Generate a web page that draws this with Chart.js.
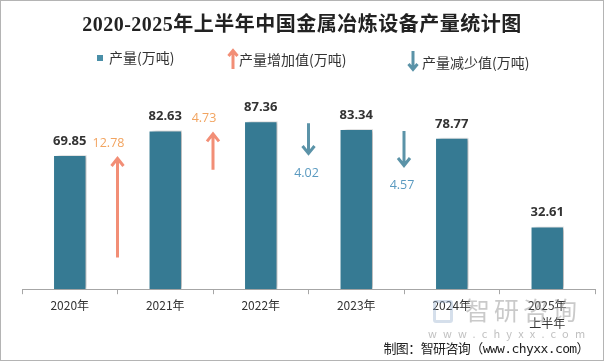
<!DOCTYPE html>
<html>
<head>
<meta charset="utf-8">
<script src="https://cdn.jsdelivr.net/npm/chart.js@4"></script>
<style>
  body { margin: 0; background: #fff; }
  #wrap { position: relative; width: 602px; height: 359px; border: 1px solid #b4b4b4; overflow: hidden;
          font-family: "Noto Sans CJK SC", "Noto Sans", sans-serif; }
  #chartBox { position: absolute; left: -1px; top: -1px; width: 604px; height: 361px; }
  .title { position: absolute; left: 0; width: 602px; top: 7px; text-align: center; font-weight: bold;
           font-size: 20px; color: #222; font-family: "Liberation Serif", "Noto Sans CJK SC", serif; letter-spacing: 0.5px; }
  .leg { position: absolute; font-size: 14px; color: #333; white-space: nowrap; }
  .sq { position: absolute; width: 6px; height: 6px; background: #4a8fa8; }
  .footer { position: absolute; right: 14px; top: 337px; font-size: 13px; color: #222;
            font-family: "DejaVu Sans Mono", "Noto Sans CJK SC", monospace; letter-spacing: -0.6px; }
  .wm { position: absolute; color: rgba(150,150,150,0.5); white-space: nowrap; }
</style>
</head>
<body>
<div id="wrap">
  <div id="chartBox"><canvas id="myChart"></canvas></div>
  <div class="title">2020-2025年上半年中国金属冶炼设备产量统计图</div>

  <div class="sq" style="left:96px; top:54px;"></div>
  <div class="leg" style="left:108px; top:46px;">产量(万吨)</div>
  <svg style="position:absolute; left:226px; top:47px;" width="12" height="22">
    <path d="M6 21 V3 M1.5 8 L6 2.5 L10.5 8" stroke="#f28e76" stroke-width="3" fill="none"/>
  </svg>
  <div class="leg" style="left:238px; top:48px;">产量增加值(万吨)</div>
  <svg style="position:absolute; left:406px; top:49px;" width="12" height="22">
    <path d="M6 1 V19 M1.5 14 L6 19.5 L10.5 14" stroke="#5b93a8" stroke-width="3" fill="none"/>
  </svg>
  <div class="leg" style="left:421px; top:51px;">产量减少值(万吨)</div>

  <div class="wm" style="left:432px; top:299px; width:20px; height:23px; border:3px solid rgba(150,175,205,0.4); border-radius:3px; box-sizing:border-box;"></div>
  <div class="wm" style="left:464px; top:293px; font-size:25px; line-height:30px; letter-spacing:4px;">智研咨询</div>
  <div class="wm" style="left:427px; top:325px; font-size:11px; line-height:14px; letter-spacing:6.2px; color:rgba(140,140,140,0.55);">www.chyxx.com</div>
  <div class="footer">制图：智研咨询（www.chyxx.com）</div>
</div>
<script>
// data
var categories = ['2020年', '2021年', '2022年', '2023年', '2024年', ['2025年', '上半年']];
var output = [69.85, 82.63, 87.36, 83.34, 78.77, 32.61];
// change between category i and i+1 (negative = decrease)
var changeGaps = [0, 1, 2, 3];
var changeValues = [12.78, 4.73, -4.02, -4.57];

var barColor = '#367a93';
var upColor = '#f28e76';
var upText = '#f2a460';
var downColor = '#5b93a8';
var downText = '#5a9ac0';

var shadowPlugin = {
    id: 'barShadow',
    beforeDatasetsDraw: function (chart) {
        var ctx = chart.ctx;
        ctx.save();
        ctx.shadowColor = 'rgba(0,0,0,0.28)';
        ctx.shadowBlur = 4;
        ctx.shadowOffsetX = 4;
        ctx.shadowOffsetY = 0;
    },
    afterDatasetsDraw: function (chart) {
        chart.ctx.restore();
    }
};

var labelPlugin = {
    id: 'labels',
    afterDraw: function (chart) {
        var ctx = chart.ctx;
        var meta = chart.getDatasetMeta(0);
        var xs = chart.scales.x, ys = chart.scales.y, ya = chart.scales.ya;
        ctx.save();
        ctx.textAlign = 'center';
        ctx.textBaseline = 'middle';
        // bar values
        ctx.font = 'bold 13px "Open Sans", "Noto Sans", sans-serif';
        ctx.fillStyle = '#333';
        meta.data.forEach(function (bar, i) {
            ctx.fillText(output[i].toFixed(2), bar.x, bar.y - 14);
        });
        // arrows
        changeValues.forEach(function (v, k) {
            var i = changeGaps[k];
            var x = (xs.getPixelForValue(i) + xs.getPixelForValue(i + 1)) / 2;
            var top = ys.getPixelForValue(output[i]) + 2;
            var len = ya.getPixelForValue(0) - ya.getPixelForValue(Math.abs(v));
            var up = v > 0;
            ctx.strokeStyle = up ? upColor : downColor;
            ctx.lineWidth = 3;
            ctx.beginPath();
            if (up) {
                ctx.moveTo(x, top + len);
                ctx.lineTo(x, top + 1);
                ctx.moveTo(x - 6, top + 9);
                ctx.lineTo(x, top + 1.5);
                ctx.lineTo(x + 6, top + 9);
            } else {
                ctx.moveTo(x, top);
                ctx.lineTo(x, top + len - 1);
                ctx.moveTo(x - 6, top + len - 9);
                ctx.lineTo(x, top + len - 1.5);
                ctx.lineTo(x + 6, top + len - 9);
            }
            ctx.stroke();
            ctx.font = '12.5px "Open Sans", "Noto Sans", sans-serif';
            if (up) {
                ctx.fillStyle = upText;
                ctx.fillText(v.toFixed(2), x - 9, top - 14);
            } else {
                ctx.fillStyle = downText;
                ctx.fillText(Math.abs(v).toFixed(2), x - 2, top + len + 18);
            }
        });
        ctx.restore();
    }
};

var ctx = document.getElementById('myChart').getContext('2d');
var myChart = new Chart(ctx, {
    type: 'bar',
    data: {
        labels: categories,
        datasets: [{
            label: '产量(万吨)',
            data: output,
            backgroundColor: barColor,
            borderColor: '#ffffff',
            borderWidth: 1,
            categoryPercentage: 1,
            barPercentage: 0.35
        }]
    },
    options: {
        responsive: true,
        maintainAspectRatio: false,
        animation: false,
        layout: { padding: { left: 22, right: 9, top: 97, bottom: 26 } },
        plugins: {
            legend: { display: false },
            tooltip: { enabled: false }
        },
        scales: {
            x: {
                border: { color: '#a6a6a6' },
                grid: { drawOnChartArea: false, offset: true, tickLength: 5, color: '#a6a6a6' },
                ticks: { color: '#333', padding: 3, font: { size: 12, family: '"Noto Sans CJK SC", sans-serif', lineHeight: 1.45 } }
            },
            y: { display: false, min: 0, max: 100 },
            ya: { display: false, min: 0, max: 24.4 }
        }
    },
    plugins: [shadowPlugin, labelPlugin]
});
</script>
</body>
</html>
